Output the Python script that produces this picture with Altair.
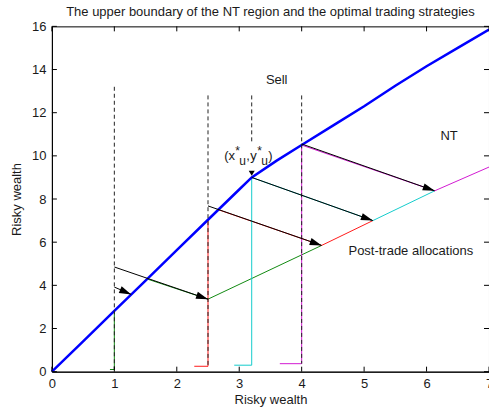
import math
import altair as alt
import pandas as pd

# ---- data -----------------------------------------------------------------
# upper boundary of the no-trade (NT) region
boundary_x = [0, 0.5, 1.0, 1.5, 2.0, 2.5, 3.0, 3.2, 3.6, 4.0, 4.5, 5.0, 5.5, 6.0, 6.5, 7.0]
boundary_y = [0, 1.40, 2.82, 4.22, 5.63, 7.04, 8.44, 9.0, 9.78, 10.5, 11.4, 12.3, 13.25, 14.15, 15.0, 15.85]

# trading paths, one per starting risky wealth
green_x = [0.93, 1.0, 1.0, 1.52, 2.5, 4.32]
green_y = [0.10, 0.10, 2.82, 4.30, 3.36, 5.85]
red_x = [2.28, 2.5, 2.5, 2.67, 4.32, 5.14]
red_y = [0.25, 0.25, 7.04, 7.50, 5.85, 7.00]
cyan_x = [2.92, 3.2, 3.2, 5.14, 6.13]
cyan_y = [0.30, 0.30, 9.00, 7.00, 8.38]
magenta_x = [3.65, 4.0, 4.0, 6.13, 7.0]
magenta_y = [0.37, 0.37, 10.5, 8.38, 9.48]

path_names = ["green", "red", "cyan", "magenta"]
path_colors = ["#118a11", "#ff1a1a", "#14cccc", "#d21ad2"]

# black trade arrows: start -> tip
arrow_x = [1.0, 1.0, 2.5, 3.2, 4.0]
arrow_y = [4.85, 3.92, 7.68, 9.0, 10.55]
arrow_x2 = [2.5, 1.27, 4.32, 5.14, 6.13]
arrow_y2 = [3.36, 3.58, 5.85, 7.0, 8.38]

# dashed "sell" guides
dash_x = [1.0, 2.5, 3.2, 4.0]
dash_top = [13.2, 12.8, 12.8, 12.8]
dash_bottom = [0.10, 0.25, 10.65, 0.37]

x_ticks = [0, 1, 2, 3, 4, 5, 6, 7]
y_ticks = [0, 2, 4, 6, 8, 10, 12, 14, 16]

W, H = 438, 346
X_DOM, Y_DOM = [0, 7], [0, 16]
FONT = "Liberation Sans"
INK = "#1a1a1a"
FS = 13

# ---- tables ----------------------------------------------------------------
boundary_df = pd.DataFrame({"x": boundary_x, "y": boundary_y})

rows = []
for name, xs_, ys_ in zip(path_names, [green_x, red_x, cyan_x, magenta_x],
                          [green_y, red_y, cyan_y, magenta_y]):
    for i, (px, py) in enumerate(zip(xs_, ys_)):
        rows.append({"path": name, "i": i, "x": px, "y": py})
paths_df = pd.DataFrame(rows)

sx, sy = W / (X_DOM[1] - X_DOM[0]), H / (Y_DOM[1] - Y_DOM[0])
angles = []
for x0, y0, x1, y1 in zip(arrow_x, arrow_y, arrow_x2, arrow_y2):
    a = math.degrees(math.atan2((y0 - y1) * sy, (x1 - x0) * sx))
    angles.append(a % 360)
arrows_df = pd.DataFrame({"x": arrow_x, "y": arrow_y, "x2": arrow_x2,
                          "y2": arrow_y2, "ang": angles})

dash_df = pd.DataFrame({"x": dash_x, "top": dash_top, "bottom": dash_bottom})
xt_df = pd.DataFrame({"t": x_ticks})
yt_df = pd.DataFrame({"t": y_ticks})

xs = alt.Scale(domain=X_DOM, nice=False, zero=False)
ys = alt.Scale(domain=Y_DOM, nice=False, zero=False)

x_axis = alt.Axis(values=x_ticks, format="d", title="Risky wealth", ticks=False, tickSize=0,
                  labelPadding=6, titlePadding=3, grid=False, labelFlush=False)
y_axis = alt.Axis(values=y_ticks, format="d", title="Risky wealth", ticks=False, tickSize=0,
                  labelPadding=6, titlePadding=8, grid=False, labelFlush=False)

# ---- layers ----------------------------------------------------------------
paths = alt.Chart(paths_df).mark_line(strokeWidth=1, clip=True).encode(
    x=alt.X("x:Q", scale=xs, axis=x_axis),
    y=alt.Y("y:Q", scale=ys, axis=y_axis),
    color=alt.Color("path:N", scale=alt.Scale(domain=path_names, range=path_colors), legend=None),
    detail="path:N",
    order=alt.Order("i:Q"),
)

boundary = alt.Chart(boundary_df).mark_line(color="#0000ff", strokeWidth=2.5).encode(
    x=alt.X("x:Q", scale=xs), y=alt.Y("y:Q", scale=ys)
)

dashes = alt.Chart(dash_df).mark_rule(color="#222222", strokeWidth=1, strokeDash=[4, 3]).encode(
    x=alt.X("x:Q", scale=xs), y=alt.Y("top:Q", scale=ys), y2="bottom:Q"
)

arrow_lines = alt.Chart(arrows_df).mark_rule(color="#000000", strokeWidth=1).encode(
    x=alt.X("x:Q", scale=xs), y=alt.Y("y:Q", scale=ys), x2="x2:Q", y2="y2:Q"
)

# arrowhead with its tip at the symbol origin, pointing right before rotation
head_path = "M0,0 L-1,-0.3 L-1,0.3 Z"
arrow_heads = alt.Chart(arrows_df).mark_point(
    shape=head_path, filled=True, color="#000000", opacity=1, size=576, strokeWidth=0
).encode(
    x=alt.X("x2:Q", scale=xs), y=alt.Y("y2:Q", scale=ys),
    angle=alt.Angle("ang:Q", scale=None),
)

# small marker pointing down at (x*_u, y*_u)
star_df = pd.DataFrame({"x": [3.2], "y": [9.08]})
star_head = alt.Chart(star_df).mark_point(
    shape="M0,0 L-1,-0.6 L-1,0.6 Z", filled=True, color="#000000", opacity=1,
    size=100, strokeWidth=0, angle=90
).encode(x=alt.X("x:Q", scale=xs), y=alt.Y("y:Q", scale=ys))

# inward tick marks on all four sides
tick_len = 5
ticks_bottom = alt.Chart(xt_df).mark_rule(color="black").encode(
    x=alt.X("t:Q", scale=xs), y=alt.value(H), y2=alt.value(H - tick_len))
ticks_top = alt.Chart(xt_df).mark_rule(color="black").encode(
    x=alt.X("t:Q", scale=xs), y=alt.value(0), y2=alt.value(tick_len))
ticks_left = alt.Chart(yt_df).mark_rule(color="black").encode(
    y=alt.Y("t:Q", scale=ys), x=alt.value(0), x2=alt.value(tick_len))
ticks_right = alt.Chart(yt_df).mark_rule(color="black").encode(
    y=alt.Y("t:Q", scale=ys), x=alt.value(W), x2=alt.value(W - tick_len))

# annotations
note_text = ["Sell", "NT"]
note_x = [3.6, 6.36]
note_y = [13.5, 10.9]
notes = alt.Chart(pd.DataFrame({"x": note_x, "y": note_y, "t": note_text})).mark_text(
    font=FONT, fontSize=FS, color=INK, align="center", baseline="middle"
).encode(x=alt.X("x:Q", scale=xs), y=alt.Y("y:Q", scale=ys), text="t:N")

post_label = alt.Chart(pd.DataFrame({"x": [4.75], "y": [5.6], "t": ["Post-trade allocations"]})).mark_text(
    font=FONT, fontSize=FS, color=INK, align="left", baseline="middle"
).encode(x=alt.X("x:Q", scale=xs), y=alt.Y("y:Q", scale=ys), text="t:N")

# (x*_u, y*_u) built from pieces: text, pixel offset right, pixel shift down, size
frag_text = ["(x", "*", "u", ",", "y", "*", "u", ")"]
frag_dx = [0, 11, 15, 22, 26, 33, 37, 44]
frag_dy = [0, -5, 5, 0, 0, -5, 5, 0]
frag_size = [13, 12, 12, 13, 13, 12, 12, 13]
label_layers = []
for t, dx, dy, fs in zip(frag_text, frag_dx, frag_dy, frag_size):
    label_layers.append(
        alt.Chart(pd.DataFrame({"x": [2.76], "y": [9.8], "t": [t]})).mark_text(
            font=FONT, fontSize=fs, color=INK, align="left",
            baseline="alphabetic", dx=dx, dy=dy
        ).encode(x=alt.X("x:Q", scale=xs), y=alt.Y("y:Q", scale=ys), text="t:N")
    )

chart = alt.layer(
    paths, boundary, dashes, arrow_lines, arrow_heads, star_head,
    ticks_bottom, ticks_top, ticks_left, ticks_right,
    notes, post_label, *label_layers
).properties(
    width=W, height=H,
    background="white",
    title=alt.TitleParams(
        "The upper boundary of the NT region and the optimal trading strategies",
        font=FONT, fontSize=FS, fontWeight="normal", color=INK,
        anchor="middle", offset=1,
    ),
    autosize=alt.AutoSizeParams(type="none"),
    padding={"left": 52, "top": 26, "right": 0, "bottom": 41},
).configure_view(
    stroke="black", strokeWidth=1
).configure_axis(
    domainColor="black", domainWidth=1,
    labelFont=FONT, labelFontSize=FS, labelColor=INK,
    titleFont=FONT, titleFontSize=FS, titleFontWeight="normal", titleColor=INK,
)

chart.save("out.html", embed_options={"renderer": "svg", "actions": False})
